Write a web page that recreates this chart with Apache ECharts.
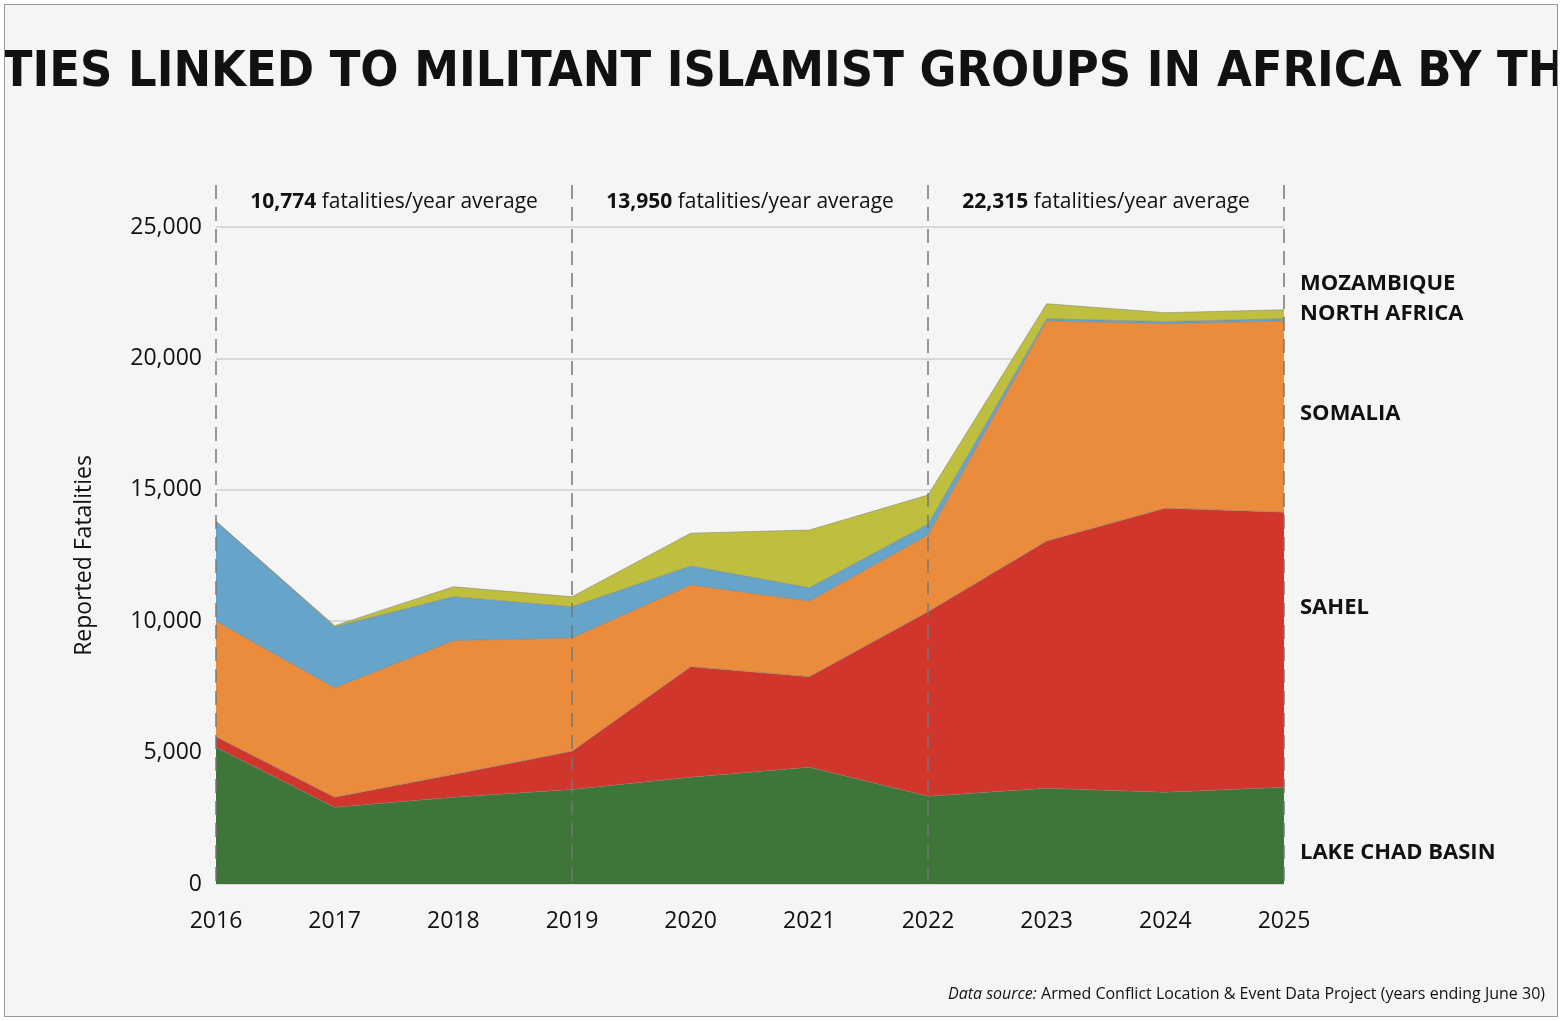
<!DOCTYPE html>
<html><head><meta charset="utf-8">
<script src="https://cdn.jsdelivr.net/npm/echarts@6/dist/echarts.min.js"></script>
<style>
html,body{margin:0;padding:0;background:#fff;}
#chart{position:absolute;left:4px;top:4px;width:1552px;height:1011px;border:1px solid #999;background:#f5f5f5;}
</style></head>
<body><div id="chart"></div>
<script>
var years = ['2016','2017','2018','2019','2020','2021','2022','2023','2024','2025'];
var lakeChad   = [5200, 2920, 3300, 3600, 4060, 4440, 3340, 3640, 3490, 3680];
var sahel      = [400, 380, 870, 1450, 4210, 3450, 7020, 9410, 10810, 10470];
var somalia    = [4400, 4170, 5090, 4320, 3110, 2880, 2920, 8380, 7020, 7280];
var northAfrica= [3800, 2320, 1670, 1180, 720, 500, 410, 80, 80, 80];
var mozambique = [0, 40, 380, 380, 1250, 2200, 1110, 570, 340, 340];
var periodStarts = ['2016','2019','2022','2025'];
var periodAverages = ['10,774','13,950','22,315'];
var legendNames = ['MOZAMBIQUE','NORTH AFRICA','SOMALIA','SAHEL','LAKE CHAD BASIN'];
var legendY = [22850, 21700, 17900, 10500, 1200];

var colors = ['#3e7539','#d0362b','#eb8c3c','#66a4c9','#bfbf3f'];
var names = ['LAKE CHAD BASIN','SAHEL','SOMALIA','NORTH AFRICA','MOZAMBIQUE'];
var datas = [lakeChad, sahel, somalia, northAfrica, mozambique];

var series = datas.map(function(d, i){
  return {
    name: names[i], type: 'line', stack: 'all', data: d,
    symbol: 'none', smooth: false,
    lineStyle: {width: 1, color: 'rgba(120,120,120,0.5)'},
    areaStyle: {color: colors[i], opacity: 1},
    itemStyle: {color: colors[i]}
  };
});

var chart = echarts.init(document.getElementById('chart'));
chart.setOption({
  backgroundColor: '#f5f5f5',
  animation: false,
  title: {
    text: 'FATALITIES LINKED TO MILITANT ISLAMIST GROUPS IN AFRICA BY THEATER',
    left: 'center', top: 38,
    textStyle: {fontFamily: 'Liberation Sans Narrow, DejaVu Sans Condensed, sans-serif', fontWeight: 'bold', fontSize: 50, color: '#111'}
  },
  grid: {left: 211, right: 273, top: 222, bottom: 132},
  xAxis: {
    type: 'category', data: years, boundaryGap: false,
    axisLine: {show: false}, axisTick: {show: false},
    axisLabel: {fontFamily: 'Open Sans, sans-serif', fontSize: 23, color: '#111', margin: 26}
  },
  yAxis: {
    type: 'value', min: 0, max: 25000, interval: 5000,
    name: 'Reported Fatalities', nameLocation: 'middle', nameGap: 120,
    nameTextStyle: {fontFamily: 'Open Sans, sans-serif', fontSize: 23, color: '#111'},
    axisLabel: {fontFamily: 'Open Sans, sans-serif', fontSize: 23, color: '#111', margin: 14,
      formatter: function(v){ return v.toLocaleString('en-US'); }},
    splitLine: {lineStyle: {color: '#cfcfcf', width: 1.5}}
  },
  series: series
});

var g = [];
var topY = chart.convertToPixel({yAxisIndex: 0}, 25000);
var botY = chart.convertToPixel({yAxisIndex: 0}, 0);
periodStarts.forEach(function(y){
  var x = chart.convertToPixel({xAxisIndex: 0}, y);
  g.push({type: 'line', z: 100, shape: {x1: x, y1: topY - 42, x2: x, y2: botY},
    style: {stroke: '#777', lineWidth: 1.5, lineDash: [14, 8]}});
});
for (var i = 0; i < periodAverages.length; i++) {
  var xa = chart.convertToPixel({xAxisIndex: 0}, periodStarts[i]);
  var xb = chart.convertToPixel({xAxisIndex: 0}, periodStarts[i + 1]);
  g.push({type: 'text', z: 100, x: (xa + xb) / 2, y: topY - 25,
    style: {text: '{b|' + periodAverages[i] + '} fatalities/year average', align: 'center', verticalAlign: 'middle',
      fontFamily: 'Open Sans, sans-serif', fontSize: 21, fill: '#111',
      rich: {b: {fontWeight: 'bold', fontSize: 21, fontFamily: 'Open Sans, sans-serif'}}}});
}
var xr = chart.convertToPixel({xAxisIndex: 0}, years[years.length - 1]);
legendNames.forEach(function(n, i){
  g.push({type: 'text', z: 100, x: xr + 16, y: chart.convertToPixel({yAxisIndex: 0}, legendY[i]),
    style: {text: n, verticalAlign: 'middle', fontFamily: 'Open Sans, sans-serif', fontWeight: 'bold', fontSize: 22, fill: '#111'}});
});
g.push({type: 'text', right: 12, bottom: 14,
  style: {text: '{i|Data source:} Armed Conflict Location & Event Data Project (years ending June 30)',
    fontFamily: 'Open Sans, sans-serif', fontSize: 16, fill: '#111',
    rich: {i: {fontStyle: 'italic', fontSize: 16, fontFamily: 'Open Sans, sans-serif'}}}});
chart.setOption({graphic: g});
</script></body></html>
